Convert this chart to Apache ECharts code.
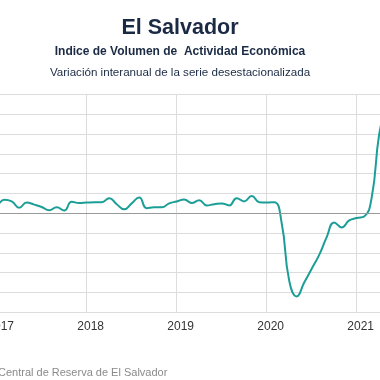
<!DOCTYPE html>
<html><head><meta charset="utf-8">
<script src="https://cdn.jsdelivr.net/npm/echarts@6/dist/echarts.min.js"></script>
<style>html,body{margin:0;padding:0;background:#fff;overflow:hidden;width:380px;height:380px;position:relative}#c{position:absolute;left:-110px;top:0;width:600px;height:380px}</style>
</head><body><div id="c"></div>
<script>
const months = ['2016-12','2017-01','2017-02','2017-03','2017-04','2017-05','2017-06','2017-07','2017-08','2017-09','2017-10','2017-11','2017-12',
'2018-01','2018-02','2018-03','2018-04','2018-05','2018-06','2018-07','2018-08','2018-09','2018-10','2018-11','2018-12',
'2019-01','2019-02','2019-03','2019-04','2019-05','2019-06','2019-07','2019-08','2019-09','2019-10','2019-11','2019-12',
'2020-01','2020-02','2020-03','2020-04','2020-05','2020-06','2020-07','2020-08','2020-09','2020-10','2020-11','2020-12',
'2021-01','2021-02','2021-03','2021-04','2021-05'];
const values = [2.0, 2.2,3.4,3.0,1.4,2.7,2.2,1.6,0.8,1.5,0.7,2.9,2.6,
2.7,2.8,2.8,3.8,2.3,1.0,2.5,4.0,1.3,1.5,1.5,2.5,
3.0,3.5,2.6,3.3,2.0,2.3,2.5,2.0,3.8,3.0,4.4,2.8,
2.7,2.8,-2.5,-17,-21,-17.5,-14,-10.5,-6,-2.3,-3.6,-1.8,
-1.2,-0.8,4,20,28];
const yearTicks = ['2017','2018','2019','2020','2021'];
const title = 'El Salvador';
const subtitle1 = 'Indice de Volumen de  Actividad Económica';
const subtitle2 = 'Variación interanual de la serie desestacionalizada';
const source = 'Central de Reserva de El Salvador';

const base = parseInt(yearTicks[0]);
function idx(s){const [y,m]=s.split('-').map(Number);return (y-base)*12+(m-1);}
const data = months.map((m,i)=>[idx(m), values[i]]);
const OFF = 110;

const chart = echarts.init(document.getElementById('c'));
chart.setOption({
  animation:false,
  backgroundColor:'#fff',
  title:[
    {text:title,left:180+OFF,textAlign:'center',top:17,padding:0,textStyle:{fontFamily:'Liberation Sans',fontSize:21.5,fontWeight:'bold',color:'#1b2a44'}},
    {text:subtitle1,left:180+OFF,textAlign:'center',top:46,padding:0,textStyle:{fontFamily:'Liberation Sans',fontSize:12,fontWeight:'bold',color:'#1b2a44'}},
    {text:subtitle2,left:180+OFF,textAlign:'center',top:67,padding:0,textStyle:{fontFamily:'Liberation Sans',fontSize:11.6,fontWeight:'normal',color:'#1b2a44'}},
    {text:source,left:-2+OFF,top:367,padding:0,textStyle:{fontFamily:'Liberation Sans',fontSize:11,fontWeight:'normal',color:'#8a8a8a'}}
  ],
  grid:{left:-93.3+OFF,right:600-(446.7+OFF),top:94.5,bottom:67.7,containLabel:false},
  xAxis:{type:'value',min:-12,max:60,interval:12,
    axisLine:{show:true,lineStyle:{color:'#d6d6d6'}},axisTick:{show:false},
    splitLine:{show:true,lineStyle:{color:'#dcdcdc'}},
    axisLabel:{margin:8,color:'#333',fontSize:12,fontFamily:'Liberation Sans',padding:[0,0,0,8],
      formatter:v=>String(base+Math.round(v/12))}},
  yAxis:{type:'value',min:-25,max:30,interval:5,
    axisLine:{show:false},axisTick:{show:false},axisLabel:{show:false},
    splitLine:{show:true,lineStyle:{color:'#dcdcdc'}}},
  series:[{type:'line',data:data,smooth:true,showSymbol:false,symbol:'none',
    lineStyle:{color:'#1c9e97',width:2},
    markLine:{silent:true,symbol:'none',label:{show:false},lineStyle:{color:'#999',type:'solid',width:1},data:[{yAxis:0}]}}]
});
</script></body></html>
